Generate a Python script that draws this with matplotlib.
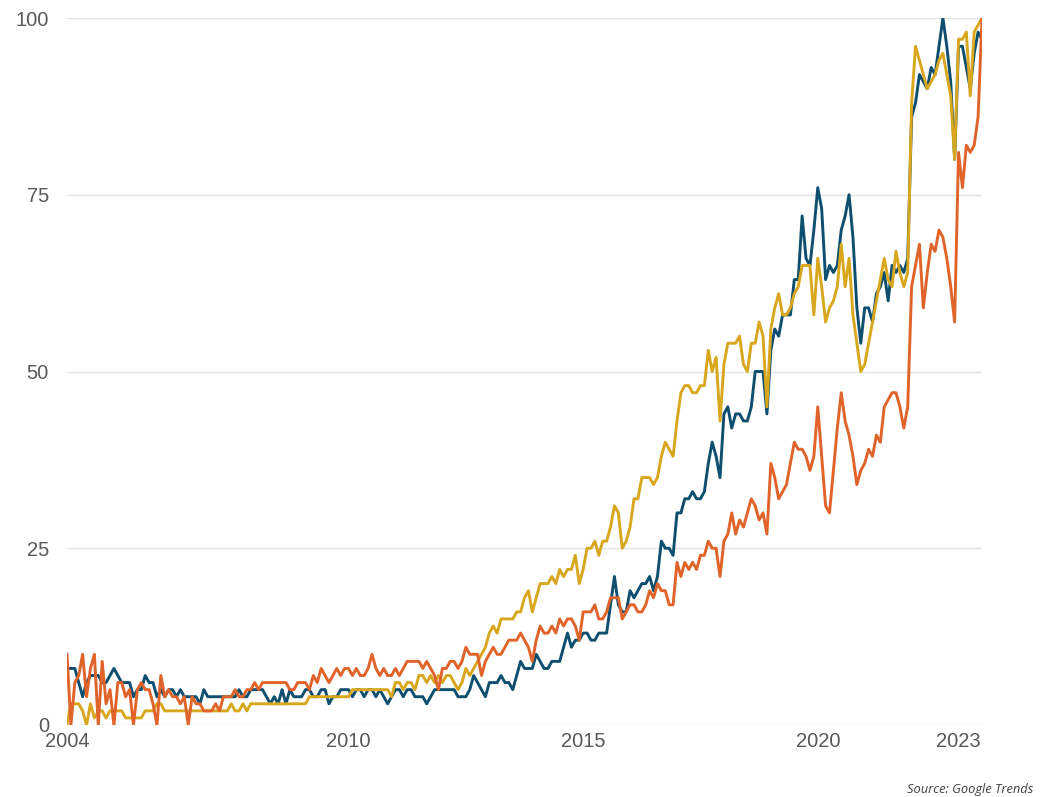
import matplotlib
matplotlib.use("Agg")
import matplotlib.pyplot as plt
import numpy as np

# Monthly index values, Jan 2004 - Jul 2023 (Google Trends, 0-100)
series_blue = [
    8, 8, 8, 6, 4, 6, 7, 7, 7, 6, 6, 7,
    8, 7, 6, 6, 6, 4, 5, 5, 7, 6, 6, 4,
    5, 4, 5, 5, 4, 5, 4, 4, 4, 4, 3, 5,
    4, 4, 4, 4, 4, 4, 4, 4, 5, 4, 4, 5,
    5, 5, 5, 4, 3, 4, 3, 5, 3, 5, 4, 4,
    4, 5, 5, 4, 4, 5, 5, 3, 4, 4, 5, 5,
    5, 4, 5, 5, 4, 5, 5, 4, 5, 4, 3, 4,
    5, 5, 4, 5, 5, 4, 4, 4, 3, 4, 5, 5,
    5, 5, 5, 5, 4, 4, 4, 5, 7, 6, 5, 4,
    6, 6, 6, 7, 6, 6, 5, 7, 9, 8, 8, 8,
    10, 9, 8, 8, 9, 9, 9, 11, 13, 11, 12, 12,
    13, 13, 12, 12, 13, 13, 13, 17, 21, 17, 16, 16,
    19, 18, 19, 20, 20, 21, 19, 21, 26, 25, 25, 24,
    30, 30, 32, 32, 33, 32, 32, 33, 37, 40, 38, 35,
    44, 45, 42, 44, 44, 43, 43, 45, 50, 50, 50, 44,
    53, 56, 55, 58, 58, 58, 63, 63, 72, 66, 65, 70,
    76, 73, 63, 65, 64, 65, 70, 72, 75, 69, 59, 54,
    59, 59, 57, 61, 62, 64, 60, 65, 64, 65, 64, 66,
    86, 88, 92, 91, 90, 93, 92, 96, 100, 96, 91, 80,
    96, 96, 93, 90, 95, 98, 97,
]

series_gold = [
    0, 3, 3, 3, 2, 0, 3, 1, 2, 2, 1, 2,
    2, 2, 2, 1, 1, 1, 1, 1, 2, 2, 2, 3,
    3, 2, 2, 2, 2, 2, 2, 2, 2, 2, 2, 2,
    2, 2, 2, 2, 2, 2, 3, 2, 2, 3, 2, 3,
    3, 3, 3, 3, 3, 3, 3, 3, 3, 3, 3, 3,
    3, 3, 4, 4, 4, 4, 4, 4, 4, 4, 4, 4,
    4, 5, 5, 5, 5, 5, 5, 5, 5, 5, 5, 4,
    6, 6, 5, 6, 6, 5, 7, 7, 6, 7, 6, 7,
    6, 7, 7, 6, 5, 6, 8, 7, 8, 9, 10, 11,
    13, 14, 13, 15, 15, 15, 15, 16, 16, 18, 19, 16,
    18, 20, 20, 20, 21, 20, 22, 21, 22, 22, 24, 20,
    22, 25, 25, 26, 24, 26, 26, 28, 31, 30, 25, 26,
    28, 32, 32, 35, 35, 35, 34, 35, 38, 40, 39, 38,
    43, 47, 48, 48, 47, 47, 48, 48, 53, 50, 52, 43,
    51, 54, 54, 54, 55, 51, 50, 54, 54, 57, 55, 45,
    56, 59, 61, 58, 58, 59, 61, 62, 65, 65, 65, 58,
    66, 62, 57, 59, 60, 62, 68, 62, 66, 58, 54, 50,
    51, 54, 57, 60, 63, 66, 63, 62, 67, 64, 62, 64,
    88, 96, 94, 92, 90, 91, 92, 94, 95, 92, 89, 80,
    97, 97, 98, 89, 98, 99, 100,
]

series_orange = [
    10, 0, 6, 7, 10, 4, 8, 10, 0, 9, 3, 5,
    0, 6, 6, 4, 5, 0, 5, 6, 5, 5, 3, 0,
    7, 4, 5, 4, 4, 3, 4, 0, 4, 3, 3, 2,
    2, 2, 3, 2, 4, 4, 4, 5, 4, 4, 5, 5,
    6, 5, 6, 6, 6, 6, 6, 6, 6, 5, 5, 6,
    6, 6, 5, 7, 6, 8, 7, 6, 7, 8, 7, 8,
    8, 7, 8, 7, 7, 8, 10, 8, 7, 8, 7, 7,
    8, 7, 8, 9, 9, 9, 9, 8, 9, 8, 7, 5,
    8, 8, 9, 9, 8, 9, 11, 10, 10, 10, 7, 9,
    10, 11, 10, 10, 11, 12, 12, 12, 13, 12, 11, 9,
    12, 14, 13, 13, 14, 13, 15, 14, 15, 15, 14, 12,
    16, 16, 16, 17, 15, 15, 16, 18, 18, 18, 15, 16,
    17, 17, 16, 16, 17, 19, 18, 20, 19, 19, 17, 17,
    23, 21, 23, 22, 23, 22, 24, 24, 26, 25, 25, 21,
    26, 27, 30, 27, 29, 28, 30, 32, 31, 29, 30, 27,
    37, 35, 32, 33, 34, 37, 40, 39, 39, 38, 36, 38,
    45, 38, 31, 30, 36, 42, 47, 43, 41, 38, 34, 36,
    37, 39, 38, 41, 40, 45, 46, 47, 47, 45, 42, 45,
    62, 65, 68, 59, 64, 68, 67, 70, 69, 66, 62, 57,
    81, 76, 82, 81, 82, 86, 100,
]

start_year = 2004
x_ticks = [2004, 2010, 2015, 2020, 2023]
y_ticks = [0, 25, 50, 75, 100]
source_text = "Source: Google Trends"

colors = {"blue": "#0E4E6E", "gold": "#D8A71E", "orange": "#E0632A"}

n = len(series_blue)
x = start_year + np.arange(n) / 12.0

fig = plt.figure(figsize=(10.51, 7.97), dpi=100)
ax = fig.add_axes([67 / 1051, 1 - 725 / 797, (982 - 67) / 1051, (725 - 18) / 797])

lw = 2.1
ax.plot(x, series_blue, color=colors["blue"], lw=lw, zorder=3)
ax.plot(x, series_gold, color=colors["gold"], lw=lw, zorder=4)
ax.plot(x, series_orange, color=colors["orange"], lw=lw, zorder=5)

ax.set_xlim(x[0], x[-1])
ax.set_ylim(0, 100)
ax.set_yticks(y_ticks)
ax.set_xticks(x_ticks)
ax.set_xticklabels([str(t) for t in x_ticks])
ax.grid(axis="y", color="#E3E3E3", lw=1.0, zorder=0)
ax.set_axisbelow(True)
for s in ax.spines.values():
    s.set_visible(False)
ax.tick_params(axis="both", length=0, labelsize=14.5, labelcolor="#595959")
ax.tick_params(axis="y", pad=13)
ax.tick_params(axis="x", pad=5)
for lab in ax.get_xticklabels() + ax.get_yticklabels():
    lab.set_fontfamily("Liberation Sans")
ax.patch.set_visible(False)

fig.text(1033 / 1051, 1 - 789 / 797, source_text, ha="right", va="center",
         fontsize=9.3, style="italic", color="#404040", family="Open Sans")

fig.savefig("out.png", dpi=100)
